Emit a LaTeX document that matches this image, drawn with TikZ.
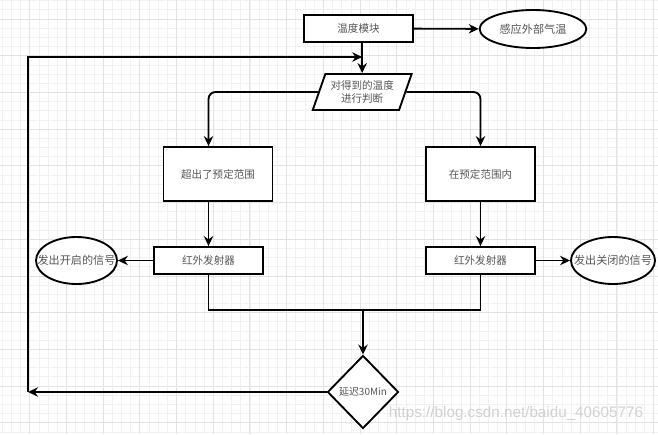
\documentclass[tikz,border=0pt]{standalone}
\usepackage{fontspec}
\newfontfamily\cjk{Noto Sans CJK SC}
\newfontfamily\wmfont{Liberation Sans}
\usetikzlibrary{shapes.geometric, arrows.meta}
\definecolor{gridminor}{HTML}{F1F1F1}
\definecolor{gridmajor}{HTML}{E2E2E2}
\definecolor{labelgray}{HTML}{555555}

\begin{document}
\begin{tikzpicture}[
    x=0.03cm, y=-0.03cm,
    module/.style={rectangle, draw=black, line width=1.6pt, fill=white, minimum width=3.27cm,
                  minimum height=0.81cm, font=\cjk\fontsize{9}{11}\selectfont, text=labelgray, align=center},
    rangebox/.style={module, minimum height=1.62cm},
    output/.style={ellipse, draw=black, line width=1.6pt, fill=white, inner sep=0pt,
                  minimum height=1.41cm, font=\cjk\fontsize{9.5}{11}\selectfont, text=labelgray},
    judgebox/.style={trapezium, trapezium left angle=64, trapezium right angle=116,
                    trapezium stretches=true, draw=black, line width=1.6pt, fill=white,
                    minimum width=2.97cm, minimum height=1.08cm, inner sep=0pt,
                    font=\cjk\fontsize{9}{10.5}\selectfont, text=labelgray, align=center},
    decision/.style={diamond, draw=black, line width=1.6pt, fill=white, inner sep=0pt,
                    minimum width=2.13cm, minimum height=2.19cm,
                    font=\cjk\fontsize{8.5}{10}\selectfont, text=labelgray},
    arrow/.style={-{Stealth[length=8.5pt, width=8pt]}, line width=1.6pt},
    link/.style={line width=1.6pt}
]

% Background grid
\useasboundingbox (0,0) rectangle (658,434);
\fill[white] (0,0) rectangle (658,434);
\foreach \gx in {0,...,71}
    \draw[gridminor, line width=0.4pt] (2.1+\gx*9.175,0) -- (2.1+\gx*9.175,434);
\foreach \gy in {0,...,47}
    \draw[gridminor, line width=0.4pt] (0,0.55+\gy*9.175) -- (658,0.55+\gy*9.175);
\foreach \gx in {0,...,17}
    \draw[gridmajor, line width=0.5pt] (29.5+\gx*36.7,0) -- (29.5+\gx*36.7,434);
\foreach \gy in {0,...,11}
    \draw[gridmajor, line width=0.5pt] (0,18.9+\gy*36.7) -- (658,18.9+\gy*36.7);

% Temperature module
\node[module] at (358.5,28.5) (temp) {温度模块};
\node[output, minimum width=3.2cm, minimum height=1.14cm] at (533,29) (sense) {\makebox[0pt]{感应外部气温}};
\node[judgebox] at (362.2,92) (judge) {对得到的温度\\进行判断};

% Two branches
\node[rangebox] at (218,174) (over) {超出了预定范围};
\node[rangebox] at (480.5,174) (inside) {在预定范围内};
\node[module] at (208.5,260.5) (irL) {红外发射器};
\node[module] at (480.5,260.5) (irR) {红外发射器};
\node[output, minimum width=2.43cm] at (76.5,260.5) (onsig) {\makebox[0pt]{发出开启的信号}};
\node[output, minimum width=2.52cm] at (613,260.5) (offsig) {\makebox[0pt]{发出关闭的信号}};

% Delay
\node[decision] at (363,392) (delay) {\makebox[0pt]{延迟30Min}};
\coordinate (merge) at (363,310);
\coordinate (back) at (28,392);
\coordinate (entry) at (362.2,57);

% Watermark
\node[font=\wmfont\fontsize{13}{15}\selectfont, text=black!18] at (516,414) (mark)
    {https://blog.csdn.net/baidu\_40605776};

% Connectors
\draw[arrow] (temp) -- (sense);
\draw[arrow] (temp.south -| judge.north) -- (judge.north);
\draw[arrow, rounded corners=6pt] (judge.west) -| (irL.north |- over.north);
\draw[arrow, rounded corners=6pt] (judge.east) -| (inside.north);
\draw[arrow] (irL.north |- over.south) -- (irL);
\draw[arrow] (inside) -- (irR);
\draw[arrow] (irL) -- (onsig);
\draw[arrow] (irR) -- (offsig);
\draw[link] (irL) |- (merge) -| (irR);
\draw[arrow] (merge) -- (delay);
\draw[arrow] (delay) -- (back);
\draw[arrow] (back) |- (entry);

\end{tikzpicture}
\end{document}
